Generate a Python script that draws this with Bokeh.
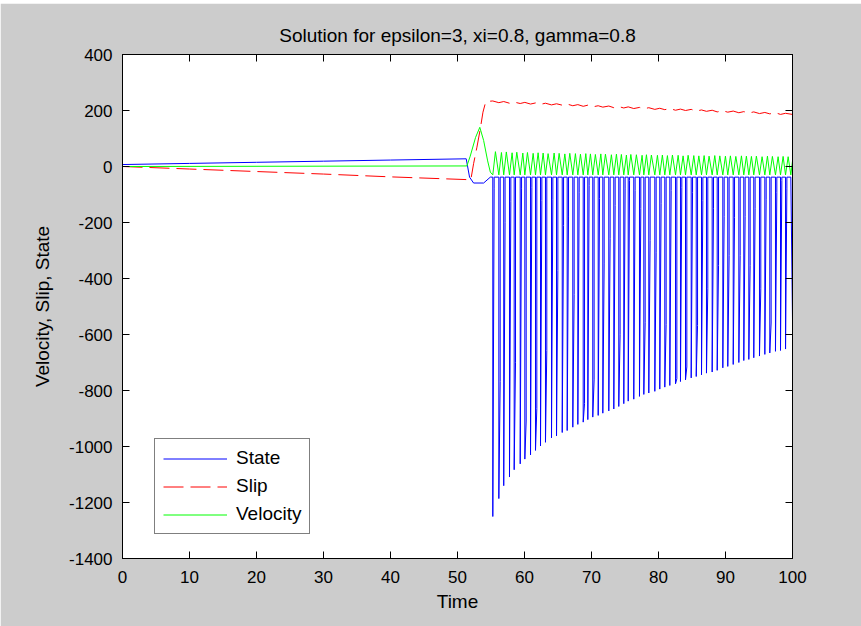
from bokeh.plotting import figure
from bokeh.models import LinearAxis, Legend, LegendItem, FixedTicker, Range1d
from bokeh.embed import file_html
from bokeh.resources import INLINE

TITLE = "Solution for epsilon=3, xi=0.8, gamma=0.8"
x_ticks = [0, 10, 20, 30, 40, 50, 60, 70, 80, 90, 100]
y_ticks = [-1400, -1200, -1000, -800, -600, -400, -200, 0, 200, 400]

# ---- State (blue) ----
state_pre_t = [0, 10, 20, 30, 40, 51.3, 51.8, 52.4, 53.9, 54.9]
state_pre_v = [7, 11, 15, 19, 23, 27.5, -38, -59, -59, -38]
spike_t = [55.27, 56.17, 56.9, 57.76, 58.46, 59.36, 60.05, 60.9, 61.64, 62.39, 63.13, 64.03, 64.78, 65.63,
           66.37, 67.21, 67.96, 68.76, 69.45, 70.19, 71.0, 71.69, 72.58, 73.33, 74.07, 74.82, 75.48, 76.31, 77.16,
           77.81, 78.55, 79.45, 80.19, 80.94, 81.69, 82.54, 83.28, 84.03, 84.88, 85.63, 86.42, 87.16, 88.01,
           88.76, 89.6, 90.34, 91.15, 91.99, 92.73, 93.48, 94.22, 95.07, 95.87, 96.61, 97.46, 98.21, 98.96]
spike_min = [-1250, -1186, -1140, -1109, -1083, -1062, -1045, -1030, -1014, -998, -985, -969, -962, -950,
             -943, -931, -921, -913, -904, -895, -889, -881, -873, -866, -857, -847, -838, -831, -821,
             -814, -809, -803, -795, -788, -782, -776, -768, -762, -755, -750, -744, -738, -734,
             -728, -719, -714, -707, -700, -693, -689, -683, -677, -671, -666, -660, -657, -652]
spike_mid = [-80, -768, -199, -124, -699, -80, -909, -74, -865, -121, -657, -119, -371, -211,
             -177, -457, -92, -847, -68, -762, -115, -345, -258, -139, -601, -80, -50, -86, -151,
             -558, -264, -306, -133, -564, -86, -758, -74, -716, -92, -568, -121, -437, -151,
             -353, -178, -318, -183, -318, -178, -353, -151, -437, -119, -559, -92, -50, -80]
STATE_BASE = -38
state_end_t = [99.75, 100]
state_end_v = [-38, -552]

# ---- Slip (red) ----
slip_pre_t = [0, 10, 20, 30, 40, 51.6, 52.0, 52.4, 52.9, 53.4, 53.8, 54.2, 54.7]
slip_pre_v = [0, -9, -18, -27, -37, -47, -46, 10, 69, 134, 194, 230, 233]
slip_cyc = [234, 228, 232, 226, 230, 225, 229, 223, 227, 222, 226, 220, 224, 219,
            223, 217, 221, 215, 219, 213, 217, 212, 216, 210, 214, 209, 213, 207, 211,
            206, 210, 204, 208, 203, 207, 201, 205, 200, 204, 198, 202, 197, 201,
            195, 199, 194, 198, 192, 196, 191, 195, 189, 193, 188, 192, 186, 190]
slip_end_t = [100]
slip_end_v = [186]

# ---- Velocity (green) ----
vel_pre_t = [0, 51.4, 51.9, 52.7, 53.33, 53.9, 54.5, 54.9]
vel_pre_v = [0, 2, 37, 104, 140, 93, 20, -20]
vel_peak = [53, 50, 52, 49, 51, 48, 50, 47, 49, 48, 46, 48, 47, 45, 47, 46, 44, 46, 45, 43,
            45, 44, 42, 44, 43, 41, 43, 42, 40, 42, 41, 40, 41, 39, 41, 40, 38, 40, 39, 38,
            39, 37, 39, 38, 37, 38, 36, 38, 37, 36, 37, 35, 37, 36, 35, 36, 35]
VEL_TROUGH = -30
vel_end_t = [99.75, 100]
vel_end_v = [-30, 20]

# build polylines
sx, sy = list(state_pre_t), list(state_pre_v)
for t, mn, md in zip(spike_t, spike_min, spike_mid):
    sx += [t, t, t + 0.2, t + 0.2]
    sy += [STATE_BASE, mn, md, STATE_BASE]
sx += state_end_t
sy += state_end_v

rx, ry = list(slip_pre_t), list(slip_pre_v)
rx += spike_t
ry += slip_cyc
rx += slip_end_t
ry += slip_end_v

gx, gy = list(vel_pre_t), list(vel_pre_v)
for t, pk in zip(spike_t, vel_peak):
    gx += [t, t + 0.39]
    gy += [VEL_TROUGH, pk]
gx += vel_end_t
gy += vel_end_v

FONT = "Liberation Sans"

p = figure(frame_width=670, frame_height=504,
           x_range=Range1d(0, 100), y_range=Range1d(-1400, 400),
           output_backend="svg", toolbar_location=None,
           min_border_left=122, min_border_right=69, min_border_top=51, min_border_bottom=68,
           background_fill_color="white", border_fill_color="#cccccc",
           outline_line_color="black", outline_line_width=1)
p.margin = (3, 0, 0, 0)
p.grid.visible = False
p.title.visible = False

r_state = p.line(sx, sy, line_color="#0000ff", line_width=1)
r_slip = p.line(rx, ry, line_color="#ff0000", line_width=1, line_dash="20 7")
r_vel = p.line(gx, gy, line_color="#00ff00", line_width=1)

p.add_layout(LinearAxis(), "right")
top_axis = LinearAxis()
p.add_layout(top_axis, "above")

for ax in p.xaxis:
    ax.ticker = FixedTicker(ticks=x_ticks)
for ax in p.yaxis:
    ax.ticker = FixedTicker(ticks=y_ticks)
    ax.major_label_overrides = {v: str(v) for v in y_ticks}

for ax in p.axis:
    ax.major_tick_in = 7
    ax.major_tick_out = 0
    ax.minor_tick_line_color = None
    ax.axis_line_color = "black"
    ax.major_tick_line_color = "black"
    ax.major_label_text_font = FONT
    ax.major_label_text_font_size = "17px"
    ax.major_label_text_color = "black"
    ax.axis_label_text_font = FONT
    ax.axis_label_text_font_size = "19px"
    ax.axis_label_text_font_style = "normal"
    ax.axis_label_text_color = "black"

# extra axes: ticks only (labels not drawn)
for ax in (p.right[0], top_axis):
    ax.major_label_text_color = None
    ax.major_label_text_font_size = "1px"
    ax.major_label_standoff = 0

# the title, carried by the top axis
top_axis.axis_label = TITLE
top_axis.axis_label_standoff = 9

p.below[0].axis_label = "Time"
p.below[0].major_label_standoff = 12
p.below[0].axis_label_standoff = 5
p.left[0].axis_label = "Velocity, Slip, State"
p.left[0].major_label_standoff = 10
p.left[0].axis_label_standoff = 13

legend = Legend(items=[LegendItem(label="State", renderers=[r_state]),
                       LegendItem(label="Slip", renderers=[r_slip]),
                       LegendItem(label="Velocity", renderers=[r_vel])],
                location=(32, 24), orientation="vertical")
legend.border_line_color = "black"
legend.border_line_width = 1
legend.background_fill_color = "white"
legend.background_fill_alpha = 1
legend.padding = 8
legend.spacing = 6
legend.margin = 0
legend.label_standoff = 9
legend.glyph_width = 64
legend.glyph_height = 19
legend.label_height = 19
legend.label_text_font = FONT
legend.label_text_font_size = "19px"
legend.label_text_color = "black"
p.add_layout(legend, "center")

open("out.html", "w").write(file_html(p, INLINE))
